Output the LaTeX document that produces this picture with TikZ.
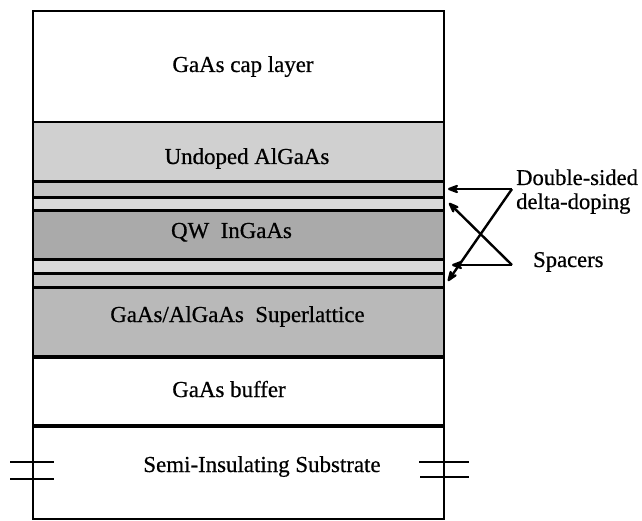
\documentclass[tikz,border=0pt]{standalone}
\usepackage{fontspec}
\setmainfont{Liberation Serif}[FakeBold=0.6]
\usetikzlibrary{arrows.meta}
\definecolor{undopedc}{HTML}{D0D0D0}
\definecolor{deltac}{HTML}{C4C4C4}
\definecolor{spacerc}{HTML}{DADADA}
\definecolor{qwc}{HTML}{AAAAAA}
\definecolor{slc}{HTML}{B9B9B9}
\begin{document}
\begin{tikzpicture}[x=1pt,y=-1pt,
  layerline/.style={line width=3pt},
  border/.style={line width=2.5pt},
  lbl/.style={font=\fontsize{22.9}{26}\selectfont, anchor=base, inner sep=0pt},
  side/.style={font=\fontsize{22.6}{26}\selectfont, anchor=base west, inner sep=0pt},
  pointer/.style={line width=2.4pt, -{Stealth[length=17pt,width=13pt,inset=8pt,round]}},
  breakmark/.style={line width=2.6pt}]
\useasboundingbox (0,0) rectangle (642,521);
% layer fills
\fill[undopedc] (33,122) rectangle (444,182);
\fill[deltac]   (33,182) rectangle (444,198);
\fill[spacerc]  (33,198) rectangle (444,211);
\fill[qwc]      (33,211) rectangle (444,260);
\fill[spacerc]  (33,260) rectangle (444,273);
\fill[deltac]   (33,273) rectangle (444,287);
\fill[slc]      (33,287) rectangle (444,357);
% layer boundaries
\draw[border] (33,122) -- (444,122);
\foreach \yy in {182,198,211,260,273,287} \draw[layerline] (33,\yy) -- (444,\yy);
\draw[line width=3.4pt] (33,357) -- (444,357);
\draw[line width=3.4pt] (33,426) -- (444,426);
% outer box
\draw[border] (33,11) rectangle (444,519);
% break marks
\draw[breakmark] (10,462) -- (54,462) (10,479) -- (54,479);
\draw[breakmark] (419,462) -- (469,462) (420,477) -- (469,477);
% layer labels
\node[lbl] (cap) at (243,72) {GaAs cap layer};
\node[lbl] (undoped) at (247,164) {Undoped AlGaAs};
\node[lbl] (qw) at (231.5,238) {QW\ \ InGaAs};
\node[lbl] (sl) at (237.5,322) {GaAs/AlGaAs\ \ Superlattice};
\node[lbl] (buf) at (229,397) {GaAs buffer};
\node[lbl] (sub) at (262,472) {Semi-Insulating Substrate};
% side labels
\node[side] (ds1) at (516,185) {Double-sided};
\node[side] (ds2) at (516,209) {delta-doping};
\node[side] (sp) at (533,267) {Spacers};
% pointer geometry
\coordinate (dv) at (512,189);
\coordinate (sv) at (512,265);
\coordinate (dtop) at (448,189);
\coordinate (dbot) at (448,281);
\coordinate (stop) at (449,203);
\coordinate (sbot) at (452,265);
\draw[pointer] (dv) -- (dtop);
\draw[pointer] (dv) -- (dbot);
\draw[pointer] (sv) -- (sbot);
\draw[pointer] (sv) -- (stop);
\end{tikzpicture}
\end{document}
